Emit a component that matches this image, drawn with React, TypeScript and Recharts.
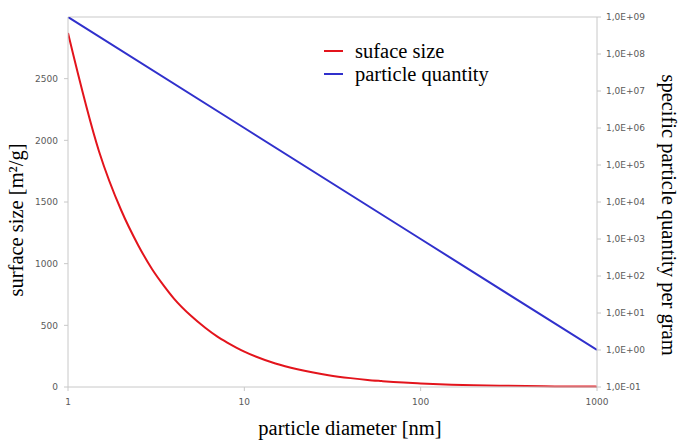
import React from "react";
import { LineChart, Line, XAxis, YAxis, ReferenceLine } from "recharts";

// particle diameter [nm]
const diameters = [1, 1.5, 2, 2.5, 3, 3.5, 4, 5, 6, 7, 8, 9, 10, 15, 20, 30, 40, 50, 60, 70, 80, 90, 100, 150, 200, 300, 500, 700, 1000];
// surface size [m²/g]
const surface = [2870, 1910, 1435, 1150, 955, 820, 715, 575, 480, 410, 360, 320, 287, 191, 144, 96, 72, 57, 48, 41, 36, 32, 29, 19, 14, 10, 6, 4, 3];
// particle quantity per gram, blue line (straight on log-log)
const quantityAt: Record<number, number> = { 1: 1e9, 10: 1e6, 100: 1e3, 1000: 1 };

const xTicks = [1, 10, 100, 1000];
const leftTicks = [0, 500, 1000, 1500, 2000, 2500];
const rightTicks = [0.1, 1, 10, 100, 1e3, 1e4, 1e5, 1e6, 1e7, 1e8, 1e9];

const data = diameters.map((d, i) => ({
  d,
  surface: surface[i],
  quantity: quantityAt[d] ?? null,
}));

const fmtSci = (v: number) => {
  const e = Math.round(Math.log10(v));
  const s = e < 0 ? "-" : "+";
  return `1,0E${s}${String(Math.abs(e)).padStart(2, "0")}`;
};

const tickStyle = { fontSize: 9, fill: "#5a5a5a", fontFamily: "DejaVu Sans, Verdana, sans-serif" };
const axisStroke = "#c8c8c8";

const legendItems = [
  { name: "suface size", color: "#e3141c" },
  { name: "particle quantity", color: "#3030cc" },
];

const titleStyle: React.CSSProperties = {
  position: "absolute",
  fontFamily: "Liberation Serif, Times New Roman, serif",
  fontSize: 20.5,
  lineHeight: "24px",
  color: "#000",
  whiteSpace: "nowrap",
};

export default function App() {
  return (
    <div style={{ position: "absolute", left: 0, top: 0, width: 687, height: 441, background: "#fff" }}>
      <LineChart width={687} height={441} data={data} margin={{ top: 17, right: 0, bottom: 0, left: 0 }}>
        <XAxis
          dataKey="d"
          type="number"
          scale="log"
          domain={[1, 1000]}
          ticks={xTicks}
          allowDataOverflow
          height={54}
          stroke={axisStroke}
          tickSize={4}
          tickMargin={8}
          tick={tickStyle}
        />
        <YAxis
          yAxisId="left"
          domain={[0, 3000]}
          ticks={leftTicks}
          width={68}
          stroke={axisStroke}
          tickSize={4}
          tickMargin={6}
          tick={tickStyle}
        />
        <YAxis
          yAxisId="right"
          orientation="right"
          scale="log"
          domain={[0.1, 1e9]}
          ticks={rightTicks}
          allowDataOverflow
          width={90}
          stroke={axisStroke}
          tickSize={4}
          tickMargin={5}
          tick={tickStyle}
          tickFormatter={fmtSci}
        />
        <ReferenceLine yAxisId="left" y={3000} stroke="#e4e4e4" strokeWidth={2} />
        <Line
          yAxisId="left"
          type="monotone"
          dataKey="surface"
          stroke="#e3141c"
          strokeWidth={2}
          dot={false}
          isAnimationActive={false}
        />
        <Line
          yAxisId="right"
          type="linear"
          dataKey="quantity"
          stroke="#3030cc"
          strokeWidth={2}
          dot={false}
          connectNulls
          isAnimationActive={false}
        />
      </LineChart>
      <div style={{ ...titleStyle, left: 324, top: 39 }}>
        {legendItems.map((it) => (
          <div key={it.name} style={{ display: "flex", alignItems: "center", height: 23 }}>
            <span style={{ display: "inline-block", width: 19, height: 2, background: it.color, marginRight: 12 }} />
            <span>{it.name}</span>
          </div>
        ))}
      </div>
      <div style={{ ...titleStyle, left: 350, top: 428, transform: "translate(-50%, -50%)" }}>
        particle diameter [nm]
      </div>
      <div style={{ ...titleStyle, left: 16, top: 220, transform: "translate(-50%, -50%) rotate(-90deg)" }}>
        surface size [m²/g]
      </div>
      <div style={{ ...titleStyle, left: 669, top: 215, transform: "translate(-50%, -50%) rotate(90deg)" }}>
        specific particle quantity per gram
      </div>
    </div>
  );
}
